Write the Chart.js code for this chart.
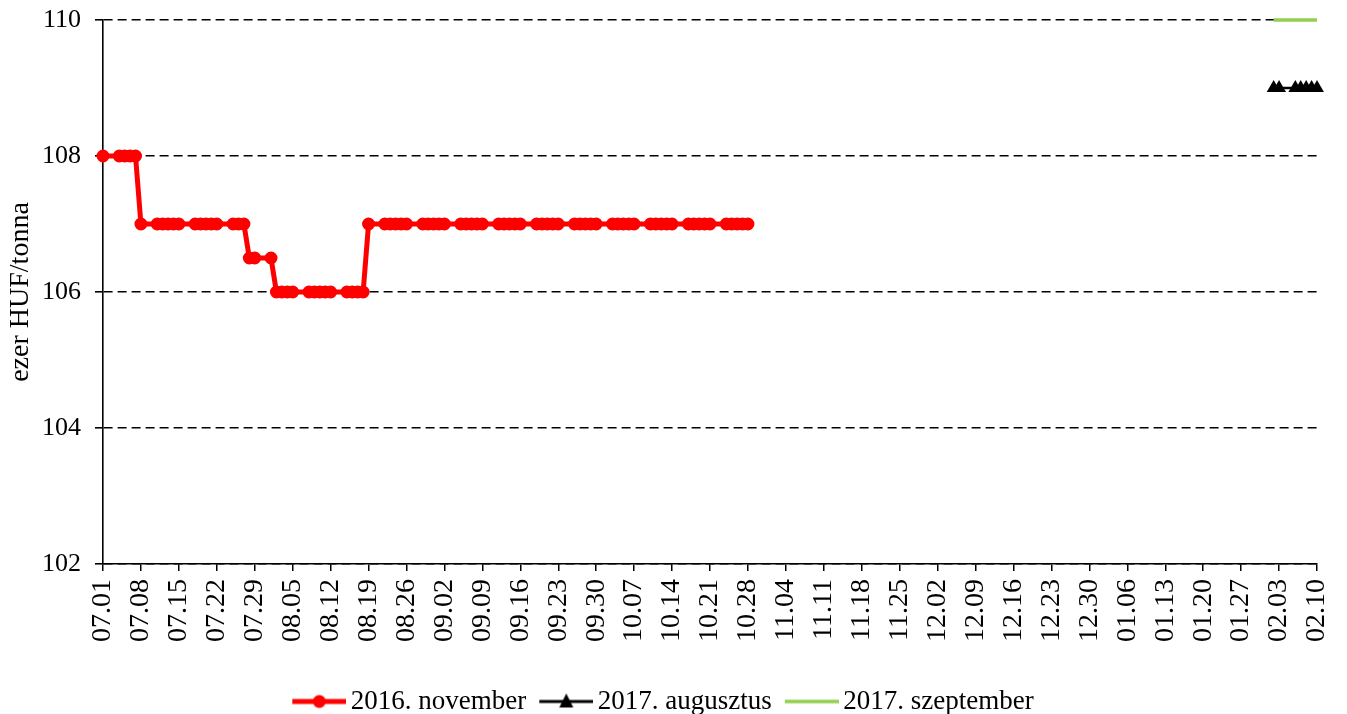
<!DOCTYPE html>
<html>
<head>
<meta charset="utf-8">
<script src="https://cdn.jsdelivr.net/npm/chart.js@4.4.1/dist/chart.umd.min.js"></script>
<style>
  html, body { margin: 0; padding: 0; background: #fff; }
  #wrap { width: 1347px; height: 714px; }
</style>
</head>
<body>
<div id="wrap"><canvas id="myChart" width="1347" height="714"></canvas></div>
<script>
(function () {
  'use strict'

  // x axis: one category per calendar day, labelled every 7th day
  var firstDay = new Date(2016, 6, 1)
  var lastDay = new Date(2017, 1, 10)
  var tickLabels = [
    '07.01', '07.08', '07.15', '07.22', '07.29', '08.05', '08.12', '08.19', '08.26',
    '09.02', '09.09', '09.16', '09.23', '09.30', '10.07', '10.14', '10.21', '10.28',
    '11.04', '11.11', '11.18', '11.25', '12.02', '12.09', '12.16', '12.23', '12.30',
    '01.06', '01.13', '01.20', '01.27', '02.03', '02.10'
  ]

  // 2016. november
  var novDates = [
    '07.01', '07.04', '07.05', '07.06', '07.07', '07.08',
    '07.11', '07.12', '07.13', '07.14', '07.15',
    '07.18', '07.19', '07.20', '07.21', '07.22',
    '07.25', '07.26', '07.27', '07.28', '07.29',
    '08.01', '08.02', '08.03', '08.04', '08.05',
    '08.08', '08.09', '08.10', '08.11', '08.12',
    '08.15', '08.16', '08.17', '08.18', '08.19',
    '08.22', '08.23', '08.24', '08.25', '08.26',
    '08.29', '08.30', '08.31', '09.01', '09.02',
    '09.05', '09.06', '09.07', '09.08', '09.09',
    '09.12', '09.13', '09.14', '09.15', '09.16',
    '09.19', '09.20', '09.21', '09.22', '09.23',
    '09.26', '09.27', '09.28', '09.29', '09.30',
    '10.03', '10.04', '10.05', '10.06', '10.07',
    '10.10', '10.11', '10.12', '10.13', '10.14',
    '10.17', '10.18', '10.19', '10.20', '10.21',
    '10.24', '10.25', '10.26', '10.27', '10.28'
  ]
  var novValues = [
    108, 108, 108, 108, 108, 107,
    107, 107, 107, 107, 107,
    107, 107, 107, 107, 107,
    107, 107, 107, 106.5, 106.5,
    106.5, 106, 106, 106, 106,
    106, 106, 106, 106, 106,
    106, 106, 106, 106, 107,
    107, 107, 107, 107, 107,
    107, 107, 107, 107, 107,
    107, 107, 107, 107, 107,
    107, 107, 107, 107, 107,
    107, 107, 107, 107, 107,
    107, 107, 107, 107, 107,
    107, 107, 107, 107, 107,
    107, 107, 107, 107, 107,
    107, 107, 107, 107, 107,
    107, 107, 107, 107, 107
  ]

  // 2017. augusztus
  var augDates = ['02.02', '02.03', '02.06', '02.07', '02.08', '02.09', '02.10']
  var augValues = [109, 109, 109, 109, 109, 109, 109]

  // 2017. szeptember
  var sepDates = ['02.02', '02.03', '02.06', '02.07', '02.08', '02.09', '02.10']
  var sepValues = [110, 110, 110, 110, 110, 110, 110]

  var RED = '#ff0000'
  var GREEN = '#92d050'
  var FONT = "'Liberation Serif', 'Times New Roman', serif"

  function pad (n) { return (n < 10 ? '0' : '') + n }

  var days = []
  for (var d = new Date(firstDay); d <= lastDay; d.setDate(d.getDate() + 1)) {
    days.push(pad(d.getMonth() + 1) + '.' + pad(d.getDate()))
  }

  function points (dates, values) {
    return dates.map(function (x, i) { return { x: x, y: values[i] } })
  }

  // legend swatch: line with the marker in the middle
  function legendIcon (color, lineWidth, marker) {
    var c = document.createElement('canvas')
    c.width = 72
    c.height = 20
    var g = c.getContext('2d')
    g.strokeStyle = color
    g.fillStyle = color
    g.lineWidth = lineWidth
    g.beginPath()
    g.moveTo(18, 10)
    g.lineTo(72, 10)
    g.stroke()
    if (marker === 'circle') {
      g.beginPath()
      g.arc(45, 10, 6.5, 0, Math.PI * 2)
      g.fill()
    } else if (marker === 'triangle') {
      g.beginPath()
      g.moveTo(45, 2)
      g.lineTo(52, 16)
      g.lineTo(38, 16)
      g.closePath()
      g.fill()
    }
    return c
  }
  var icons = [
    legendIcon(RED, 5, 'circle'),
    legendIcon('#000', 3, 'triangle'),
    legendIcon(GREEN, 3.5, null)
  ]

  var ctx = document.getElementById('myChart')
  // eslint-disable-next-line no-unused-vars
  var myChart = new Chart(ctx, {
    type: 'line',
    data: {
      labels: days,
      datasets: [{
        label: '2016. november',
        data: points(novDates, novValues),
        borderColor: RED,
        backgroundColor: RED,
        borderWidth: 5,
        pointRadius: 5.5,
        pointBorderWidth: 2,
        pointBackgroundColor: RED,
        pointBorderColor: RED,
        tension: 0,
        clip: false
      }, {
        label: '2017. augusztus',
        data: points(augDates, augValues),
        borderColor: '#000',
        backgroundColor: '#000',
        borderWidth: 2.5,
        pointStyle: 'triangle',
        pointRadius: 8,
        pointBorderWidth: 0,
        pointBackgroundColor: '#000',
        tension: 0,
        clip: false
      }, {
        label: '2017. szeptember',
        data: points(sepDates, sepValues),
        borderColor: GREEN,
        backgroundColor: GREEN,
        borderWidth: 3.5,
        pointRadius: 0,
        tension: 0,
        clip: false
      }]
    },
    options: {
      responsive: false,
      animation: false,
      devicePixelRatio: 1,
      layout: { padding: { left: 0, right: 30, top: 20, bottom: -11 } },
      plugins: {
        tooltip: { enabled: false },
        legend: {
          position: 'bottom',
          labels: {
            color: '#000',
            font: { family: FONT, size: 27 },
            usePointStyle: true,
            pointStyleWidth: 54,
            padding: 4,
            generateLabels: function (chart) {
              var items = Chart.defaults.plugins.legend.labels.generateLabels(chart)
              items.forEach(function (it, i) { it.pointStyle = icons[i] })
              return items
            }
          }
        }
      },
      scales: {
        x: {
          type: 'category',
          offset: false,
          afterFit: function (scale) {
            scale.height = 120
            scale.paddingLeft = 0
            scale.paddingRight = 0
          },
          grid: {
            drawOnChartArea: false,
            tickLength: 7,
            lineWidth: 1.5,
            color: function (c) { return c.index % 7 === 0 ? '#000' : 'rgba(0,0,0,0)' }
          },
          border: { display: true, color: '#000', width: 1.6 },
          ticks: {
            autoSkip: false,
            minRotation: 90,
            maxRotation: 90,
            padding: 8,
            color: '#000',
            font: { family: FONT, size: 28 },
            callback: function (value) {
              var lab = this.getLabelForValue(value)
              return tickLabels.indexOf(lab) >= 0 ? lab : ''
            }
          }
        },
        y: {
          min: 102,
          max: 110,
          afterFit: function (scale) {
            scale.width = 103
            scale.paddingTop = 0
            scale.paddingBottom = 0
          },
          ticks: {
            stepSize: 2,
            padding: 14,
            color: '#000',
            font: { family: FONT, size: 26 }
          },
          grid: {
            color: '#000',
            lineWidth: 1.6,
            tickLength: 8,
            tickWidth: 1.6,
            tickColor: '#000',
            tickBorderDash: []
          },
          border: { display: true, color: '#000', width: 1.6, dash: [9, 5] },
          title: {
            display: true,
            text: 'ezer HUF/tonna',
            color: '#000',
            font: { family: FONT, size: 28 },
            padding: { top: 4, bottom: 0 }
          }
        }
      }
    }
  })
}())
</script>
</body>
</html>
